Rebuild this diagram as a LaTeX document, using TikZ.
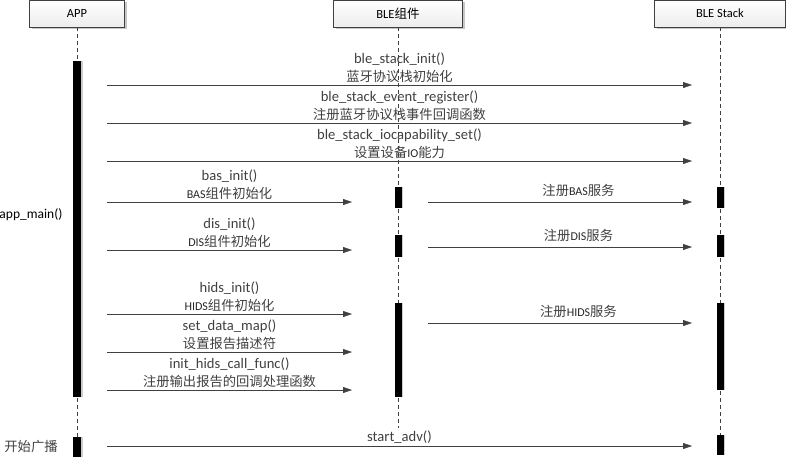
\documentclass[tikz,border=0pt]{standalone}
\usepackage{fontspec}
\setmainfont{Carlito}
\newfontfamily\cjk{Noto Sans CJK SC}
\usetikzlibrary{arrows.meta, positioning, shadows}
\definecolor{linegray}{rgb}{0.25, 0.25, 0.25}
\newcommand{\zh}[1]{{\cjk\fontsize{13.3}{18}\selectfont\color{black!75}#1}}
\newcommand{\sm}[1]{{\fontsize{12}{18}\selectfont\color{black!85}#1}}

\begin{document}
\begin{tikzpicture}[x=1pt, y=-1pt,
	head/.style={draw=linegray, top color=white, bottom color=black!7, minimum height=27pt, inner sep=0pt, font=\fontsize{12.5}{15}\selectfont, drop shadow={shadow xshift=2pt, shadow yshift=-2pt, fill=black!22, opacity=1}},
	bar/.style={fill=black, inner sep=0pt, minimum width=7pt, anchor=north, drop shadow={shadow xshift=1.5pt, shadow yshift=0pt, fill=black!20, opacity=1}},
	life/.style={linegray, dash pattern=on 4pt off 3pt},
	msg/.style={linegray, -{Triangle[length=9pt, width=6pt]}},
	lbl/.style={align=center, inner sep=2pt, font=\fontsize{14.6}{18}\selectfont}]
			\useasboundingbox (0,0) rectangle (786,459);
			
			\node[head, minimum width=95pt] (app) at (77,13.5) {APP};
			\node[head, minimum width=129pt] (ble) at (398,13.5) {BLE{\cjk 组件}};
			\node[head, minimum width=131pt] (stack) at (720,13.5) {BLE Stack};
			
			\coordinate (append) at (77,437);
			\coordinate (bleend) at (398,428);
			\coordinate (stackend) at (720,435);
			\draw[life] (app) -- (append);
			\draw[life] (ble) -- (bleend);
			\draw[life] (stack) -- (stackend);
			
			\node[bar, minimum width=8pt, minimum height=336pt] (appbar1) at (77,61) {};
			\node[bar, minimum width=8pt, minimum height=20pt] (appbar2) at (append) {};
			\foreach \n/\t/\h in {bas/187/21, dis/235/22, hids/303/94}{
				\node[bar, minimum height=\h pt] (ble\n) at (398,\t) {};
			}
			\foreach \n/\t/\h in {bas/187/21, dis/235/22, hids/303/87, adv/435/20}{
				\node[bar, minimum height=\h pt] (stack\n) at (720,\t) {};
			}
			
			\node[font=\fontsize{13.5}{15}\selectfont] (main) at (31,215) {app\_main()};
			\node (adv) at (31,446) {\zh{开始广播}};
			
			\foreach \n/\y in {init/85, reg/123, io/161, adv/446}{
				\coordinate (s\n) at (107,\y);
				\coordinate (e\n) at (692,\y);
			}
			\foreach \n/\y in {bas/202, dis/250, hids/314, map/352, cb/390}{
				\coordinate (a\n) at (107,\y);
				\coordinate (b\n) at (352,\y);
			}
			\foreach \n/\y in {bas/202, dis/247, hids/323}{
				\coordinate (c\n) at (428,\y);
				\coordinate (d\n) at (692,\y);
			}
			
			\draw[msg] (sinit) -- node[lbl, above] {ble\_stack\_init()\\\zh{蓝牙协议栈初始化}} (einit);
			\draw[msg] (sreg) -- node[lbl, above] {ble\_stack\_event\_register()\\\zh{注册蓝牙协议栈事件回调函数}} (ereg);
			\draw[msg] (sio) -- node[lbl, above] {ble\_stack\_iocapability\_set()\\\zh{设置设备}\sm{IO}\zh{能力}} (eio);
			\draw[msg] (sadv) -- node[lbl, above] {start\_adv()} (eadv);
			
			\draw[msg] (abas) -- node[lbl, above] {bas\_init()\\\sm{BAS}\zh{组件初始化}} (bbas);
			\draw[msg] (adis) -- node[lbl, above] {dis\_init()\\\sm{DIS}\zh{组件初始化}} (bdis);
			\draw[msg] (ahids) -- node[lbl, above] {hids\_init()\\\sm{HIDS}\zh{组件初始化}} (bhids);
			\draw[msg] (amap) -- node[lbl, above] {set\_data\_map()\\\zh{设置报告描述符}} (bmap);
			\draw[msg] (acb) -- node[lbl, above] {init\_hids\_call\_func()\\\zh{注册输出报告的回调处理函数}} (bcb);
			
			\draw[msg] (cbas) -- node[lbl, above, pos=0.57, yshift=3pt] {\zh{注册}\sm{BAS}\zh{服务}} (dbas);
			\draw[msg] (cdis) -- node[lbl, above, pos=0.57, yshift=3pt] {\zh{注册}\sm{DIS}\zh{服务}} (ddis);
			\draw[msg] (chids) -- node[lbl, above, pos=0.57, yshift=3pt] {\zh{注册}\sm{HIDS}\zh{服务}} (dhids);
		\end{tikzpicture}
\end{document}
